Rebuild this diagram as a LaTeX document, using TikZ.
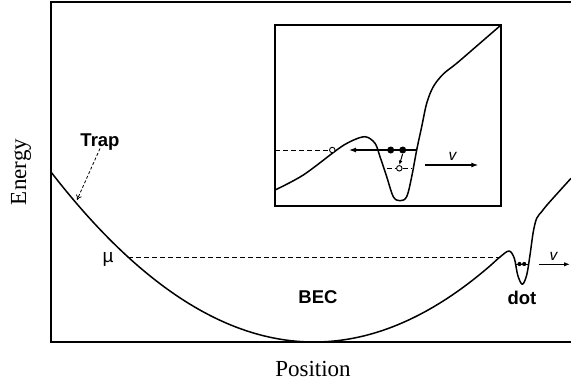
\documentclass[tikz,border=0pt]{standalone}
\usepackage{fontspec}
\setmainfont{Liberation Serif}
\setsansfont{Liberation Sans}
\usetikzlibrary{arrows.meta}
\begin{document}
\begin{tikzpicture}[x=1pt,y=-1pt,
  frame/.style={line width=1.5pt},
  curve/.style={line width=1.5pt, line join=round},
  lbl/.style={font=\sffamily\bfseries\fontsize{18.5}{18.5}\selectfont, inner sep=0pt},
  axislbl/.style={font=\fontsize{23}{23}\selectfont, inner sep=0pt},
  vlbl/.style={font=\sffamily\itshape\fontsize{15.5}{15.5}\selectfont, inner sep=0pt},
  lvl/.style={dash pattern=on 5pt off 3pt, line width=1pt},
  solidlvl/.style={line width=1.1pt},
  arr/.style={-{Latex[length=7pt,width=5pt]}, line width=1.2pt},
  smallarr/.style={-{Latex[length=4pt,width=4pt]}, line width=1pt},
  traparr/.style={-{To[length=5pt,width=6pt]}, dash pattern=on 3pt off 2pt, line width=0.8pt},
  hole/.style={circle, draw, fill=white, inner sep=0pt, minimum size=5.5pt, line width=0.9pt},
  elec/.style={circle, fill=black, inner sep=0pt, minimum size=7pt}]
\useasboundingbox (0,0) rectangle (571,381);

% main frame (no right edge)
\draw[frame] (571,2) -- (51,2) -- (51,342) -- (571,342);

% texts
\node[axislbl] (pos) at (313,369) {Position};
\node[axislbl, rotate=90] (en) at (21,172) {Energy};
\node[lbl] (bec) at (318,297) {BEC};
\node[lbl] (dot) at (522,298) {dot};
\node[lbl] (trap) at (100,142) {Trap};
\node[font=\sffamily\fontsize{19}{19}\selectfont, inner sep=0pt, anchor=base] (mu) at (108,262) {µ};

% mu level
\coordinate (muL) at (128,257);
\coordinate (muR) at (500,257);
\draw[lvl] (muL) -- (muR);

% trap pointer
\coordinate (traptip) at (77,200);
\draw[traparr] ([yshift=2pt]trap.south) -- (traptip);

% main potential
\draw[curve] plot[domain=51:480, samples=140] (\x,{342-((\x-314)*0.049578)^2})
  -- plot[smooth, tension=0.55] coordinates {(480,274.3) (490,265.9) (500,257) (509,251)
  (514.3,258.3) (517.7,275) (522.3,284.3) (526.7,275) (530,255) (533.3,231.7)
  (536.7,218.3) (541.7,211.7) (548.3,203.5) (571,178.3)};

% dot electrons and v arrow
\coordinate (dlL) at (516,264);
\coordinate (dlR) at (527.5,264);
\draw[line width=0.8pt] (dlL) -- (dlR);
\node[elec, minimum size=4.2pt] (de1) at (519.5,264) {};
\node[elec, minimum size=4.2pt] (de2) at (524.2,264) {};
\coordinate (dvA) at (538.5,264.3);
\coordinate (dvB) at (570,264.3);
\draw[arr, -{Latex[length=6pt,width=4.5pt]}] (dvA) -- (dvB);
\node[vlbl] (dv) at (553.5,256.5) {v};

% inset
\draw[frame] (275,25) rectangle (501,206);
\draw[curve] plot[smooth, tension=0.55] coordinates {(275,190) (303.3,175) (336.7,150)
  (350,141.7) (365,136.7) (375,143.3) (380,156.7) (386.7,176.7) (393.3,196.7) (400,200.7)
  (406.7,196.7) (411.7,176.7) (416.7,150) (421.7,126.7) (426.7,103.3) (433.3,86.7)
  (443.3,74) (456.7,63.3) (480,43.2) (501,25)};

% inset levels
\node[hole] (h1) at (332.3,150) {};
\coordinate (insL) at (275,150);
\draw[lvl] (insL) -- (h1.west);
\coordinate (lvlL) at (373.3,150);
\coordinate (lvlR) at (416.7,150);
\draw[solidlvl] (lvlL) -- (lvlR);
\coordinate (arrL) at (349,150);
\draw[arr] (lvlL) -- (arrL);
\coordinate (lowL) at (386.7,168.3);
\coordinate (lowR) at (411.7,168.3);
\draw[lvl] (lowL) -- (lowR);
\node[hole] (h2) at (399.3,168.3) {};
\node[elec] (e1) at (390.7,150) {};
\node[elec] (e2) at (402.7,150) {};
\draw[smallarr, shorten <=0.5pt, shorten >=0.5pt] (e2.south) -- (h2.north);

% inset v arrow
\coordinate (ivA) at (425,165);
\coordinate (ivB) at (478.3,165);
\draw[arr] (ivA) -- (ivB);
\node[vlbl] (iv) at (452.5,156.5) {v};
\end{tikzpicture}
\end{document}
